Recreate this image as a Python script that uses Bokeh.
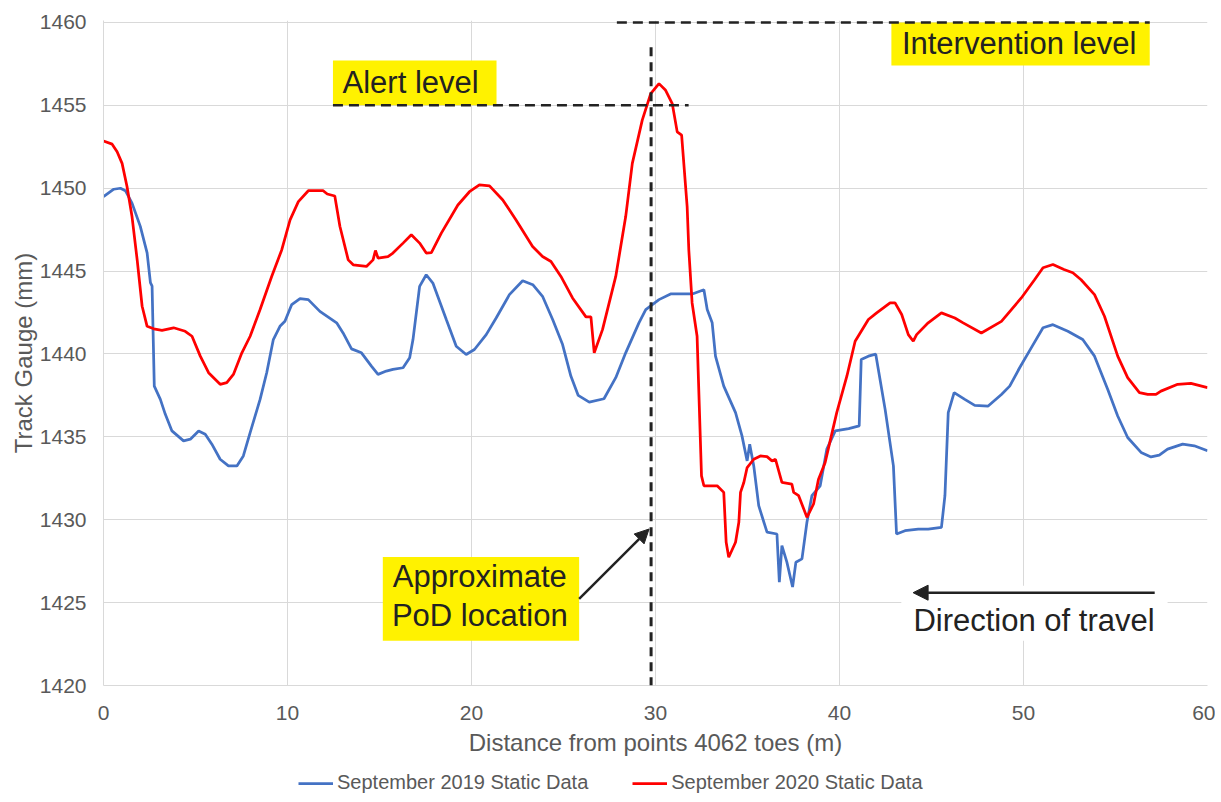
from bokeh.plotting import figure
from bokeh.layouts import column
from bokeh.models import (Range1d, FixedTicker, Legend, LegendItem, BoxAnnotation,
                          Label, Arrow, NormalHead)
from bokeh.embed import file_html
from bokeh.resources import INLINE

# ---------------- data ----------------
x_2019 = [0.0, 0.56, 0.92, 1.19, 1.55, 2.0, 2.37, 2.55, 2.64, 2.76, 3.09, 3.36, 3.72, 4.35, 4.72,
          5.17, 5.53, 5.89, 6.34, 6.79, 7.25, 7.6, 7.97, 8.51, 8.87, 9.23, 9.59, 9.86, 10.23, 10.68,
          11.13, 11.76, 12.67, 13.02, 13.48, 14.02, 14.56, 14.92, 15.37, 15.73, 16.28, 16.64, 16.82,
          17.18, 17.54, 17.9, 18.63, 19.17, 19.71, 20.16, 20.8, 21.34, 22.06, 22.78, 23.33, 23.86,
          24.41, 24.95, 25.4, 25.8, 26.4, 27.2, 27.84, 28.38, 29.1, 29.47, 30.19, 30.82, 32.0,
          32.63, 32.81, 33.08, 33.26, 33.71, 34.35, 34.7, 34.98, 35.12, 35.34, 35.61, 36.06, 36.6,
          36.73, 36.87, 37.14, 37.45, 37.63, 37.96, 38.23, 38.5, 38.95, 39.31, 39.77, 40.5, 41.07,
          41.18, 41.57, 41.97, 42.48, 42.93, 43.1, 43.56, 44.28, 44.82, 45.54, 45.73, 45.91, 46.23,
          46.81, 47.35, 48.08, 48.8, 49.25, 49.79, 50.42, 51.06, 51.6, 52.41, 53.22, 53.86, 54.58,
          55.12, 55.66, 56.39, 56.93, 57.38, 57.83, 58.65, 59.28, 60.0]
y_2019 = [1449.5, 1449.94, 1450.0, 1449.85, 1449.1, 1447.7, 1446.1, 1444.3, 1444.1, 1438.06,
          1437.26, 1436.36, 1435.36, 1434.76, 1434.86, 1435.36, 1435.16, 1434.56, 1433.65, 1433.25,
          1433.25, 1433.85, 1435.26, 1437.26, 1438.87, 1440.87, 1441.67, 1441.97, 1442.98, 1443.34,
          1443.28, 1442.57, 1441.88, 1441.27, 1440.31, 1440.07, 1439.27, 1438.77, 1438.97, 1439.07,
          1439.17, 1439.77, 1440.87, 1444.08, 1444.78, 1444.28, 1442.08, 1440.47, 1439.97, 1440.27,
          1441.17, 1442.17, 1443.58, 1444.42, 1444.18, 1443.48, 1442.08, 1440.57, 1438.67, 1437.5,
          1437.1, 1437.3, 1438.57, 1440.07, 1441.88, 1442.68, 1443.28, 1443.62, 1443.62, 1443.88,
          1442.68, 1441.88, 1439.87, 1438.06, 1436.46, 1435.06, 1433.55, 1434.56, 1433.25, 1430.85,
          1429.25, 1429.14, 1426.24, 1428.44, 1427.44, 1425.94, 1427.44, 1427.64, 1429.85, 1431.45,
          1432.05, 1434.26, 1435.36, 1435.5, 1435.66, 1439.67, 1439.87, 1439.99, 1436.66, 1433.25,
          1429.14, 1429.34, 1429.44, 1429.44, 1429.54, 1431.45, 1436.46, 1437.67, 1437.26, 1436.9,
          1436.86, 1437.56, 1438.06, 1439.17, 1440.37, 1441.58, 1441.77, 1441.37, 1440.87, 1439.87,
          1437.86, 1436.26, 1434.96, 1434.06, 1433.79, 1433.9, 1434.26, 1434.56, 1434.46, 1434.16]

x_2020 = [0.0, 0.47, 0.74, 1.01, 1.28, 1.55, 1.83, 2.1, 2.37, 2.73, 3.18, 3.81, 4.44, 4.81, 5.26,
          5.71, 6.34, 6.7, 7.06, 7.52, 7.97, 8.51, 9.14, 9.69, 10.14, 10.59, 11.13, 11.94, 12.16,
          12.57, 12.85, 13.3, 13.57, 14.29, 14.65, 14.78, 14.92, 15.46, 15.73, 16.28, 16.73, 17.18,
          17.54, 17.82, 18.36, 19.26, 19.89, 20.43, 20.98, 21.7, 22.42, 23.32, 23.86, 24.32, 24.86,
          25.49, 26.22, 26.49, 26.67, 27.12, 27.84, 28.38, 28.74, 29.28, 29.74, 30.19, 30.55, 30.91,
          31.18, 31.42, 31.72, 31.81, 31.99, 32.26, 32.5, 32.63, 33.35, 33.71, 33.84, 33.98, 34.35,
          34.53, 34.62, 34.8, 34.98, 35.34, 35.7, 36.06, 36.33, 36.52, 36.87, 37.41, 37.51, 37.78,
          38.23, 38.59, 38.86, 39.22, 39.85, 40.4, 40.85, 41.57, 42.02, 42.75, 43.02, 43.38, 43.74,
          44.01, 44.19, 44.82, 45.54, 46.27, 46.72, 47.71, 48.8, 49.88, 50.6, 51.06, 51.6, 52.2,
          52.68, 53.13, 53.86, 54.4, 55.12, 55.66, 56.3, 56.75, 57.2, 57.47, 58.38, 59.1, 60.0]
y_2020 = [1452.85, 1452.66, 1452.2, 1451.5, 1450.09, 1448.29, 1445.68, 1442.88, 1441.67, 1441.52,
          1441.43, 1441.58, 1441.37, 1441.07, 1439.87, 1438.87, 1438.17, 1438.27, 1438.77, 1440.07,
          1441.07, 1442.68, 1444.68, 1446.29, 1448.09, 1449.19, 1449.85, 1449.85, 1449.65, 1449.53,
          1447.69, 1445.68, 1445.38, 1445.28, 1445.68, 1446.24, 1445.79, 1445.88, 1446.09, 1446.69,
          1447.19, 1446.69, 1446.09, 1446.12, 1447.29, 1448.99, 1449.79, 1450.2, 1450.14, 1449.29,
          1448.09, 1446.48, 1445.88, 1445.58, 1444.68, 1443.38, 1442.24, 1442.24, 1440.07, 1441.47,
          1444.68, 1448.29, 1451.5, 1454.11, 1455.71, 1456.31, 1455.91, 1455.11, 1453.4, 1453.2,
          1448.89, 1446.29, 1443.08, 1441.07, 1432.65, 1432.05, 1432.05, 1431.65, 1428.64, 1427.74,
          1428.64, 1429.85, 1431.65, 1432.25, 1433.15, 1433.65, 1433.85, 1433.81, 1433.55, 1433.65,
          1432.25, 1432.15, 1431.65, 1431.45, 1430.15, 1430.95, 1432.45, 1433.46, 1436.46, 1438.66,
          1440.77, 1442.08, 1442.48, 1443.08, 1443.08, 1442.38, 1441.17, 1440.77, 1441.17, 1441.88,
          1442.48, 1442.17, 1441.88, 1441.27, 1441.97, 1443.38, 1444.48, 1445.2, 1445.4, 1445.1,
          1444.9, 1444.48, 1443.58, 1442.28, 1439.87, 1438.57, 1437.67, 1437.56, 1437.56, 1437.76,
          1438.17, 1438.23, 1437.97]

x_ticks = [0, 10, 20, 30, 40, 50, 60]
y_ticks = [1420, 1425, 1430, 1435, 1440, 1445, 1450, 1455, 1460]
series_names = ["September 2019 Static Data", "September 2020 Static Data"]
series_colors = ["#4472C4", "#FF0000"]
alert_level = 1455
intervention_level = 1460
pod_x = 29.76

FONT = "Liberation Sans"
GREY = "#595959"
DARK = "#222222"
YELLOW = "#FFF200"

p = figure(frame_width=1104, frame_height=665,
           x_range=Range1d(0, 60), y_range=Range1d(1420, 1460.12),
           output_backend="svg", toolbar_location=None,
           min_border_left=103, min_border_right=8, min_border_top=20, min_border_bottom=74)
p.outline_line_color = None
p.background_fill_color = "white"

for ax in (p.xaxis[0], p.yaxis[0]):
    ax.major_tick_line_color = None
    ax.minor_tick_line_color = None
    ax.axis_line_color = "#d9d9d9"
    ax.major_label_text_font = FONT
    ax.major_label_text_font_size = "21px"
    ax.major_label_text_color = GREY
    ax.axis_label_text_font = FONT
    ax.axis_label_text_font_size = "24px"
    ax.axis_label_text_font_style = "normal"
    ax.axis_label_text_color = GREY

p.xaxis.ticker = FixedTicker(ticks=x_ticks)
p.yaxis.ticker = FixedTicker(ticks=y_ticks)
p.xaxis.axis_label = "Distance from points 4062 toes (m)"
p.yaxis.axis_label = "Track Gauge (mm)"
p.xaxis.major_label_standoff = 14
p.xaxis.axis_label_standoff = 6
p.yaxis.major_label_standoff = 11
p.yaxis.axis_label_standoff = 0
p.xgrid.grid_line_color = "#d9d9d9"
p.ygrid.grid_line_color = "#d9d9d9"

p.line(x_2019, y_2019, line_color=series_colors[0], line_width=2.75)
p.line(x_2020, y_2020, line_color=series_colors[1], line_width=2.75)

# yellow / white boxes
p.add_layout(BoxAnnotation(left=12.47, right=21.36, bottom=1455.0, top=1457.7,
                           fill_color=YELLOW, fill_alpha=1, line_color=None))
p.add_layout(BoxAnnotation(left=42.82, right=56.86, bottom=1457.4, top=1460.0,
                           fill_color=YELLOW, fill_alpha=1, line_color=None))
p.add_layout(BoxAnnotation(left=15.18, right=25.85, bottom=1422.7, top=1427.76,
                           fill_color=YELLOW, fill_alpha=1, line_color=None))
p.add_layout(BoxAnnotation(left=43.36, right=57.83, bottom=1422.7, top=1426.02,
                           fill_color="white", fill_alpha=1, line_color=None))

# dashed level lines
dash_kw = dict(line_color=DARK, line_width=2.5, line_dash="10 6", end=None)
p.add_layout(Arrow(x_start=27.9, x_end=56.86, y_start=intervention_level, y_end=intervention_level, **dash_kw))
p.add_layout(Arrow(x_start=12.47, x_end=31.8, y_start=alert_level, y_end=alert_level, **dash_kw))
p.add_layout(Arrow(x_start=pod_x, x_end=pod_x, y_start=1458.5, y_end=1420, line_color=DARK,
                   line_width=3, line_dash="9 6", end=None))

# arrows
p.add_layout(Arrow(x_start=25.85, y_start=1425.23, x_end=29.65, y_end=1429.44,
                   line_color=DARK, line_width=2.5,
                   end=NormalHead(size=14, fill_color=DARK, line_color=DARK)))
p.add_layout(Arrow(x_start=57.13, y_start=1425.6, x_end=44.0, y_end=1425.6,
                   line_color=DARK, line_width=2.5,
                   end=NormalHead(size=15, fill_color=DARK, line_color=DARK)))

lab_kw = dict(text_font=FONT, text_font_size="31px", text_color=DARK,
              text_align="center", text_baseline="middle")
p.add_layout(Label(x=16.69, y=1456.39, text="Alert level", **lab_kw))
p.add_layout(Label(x=49.76, y=1458.74, text="Intervention level", **lab_kw))
p.add_layout(Label(x=20.45, y=1426.56, text="Approximate", **lab_kw))
p.add_layout(Label(x=20.45, y=1424.2, text="PoD location", **lab_kw))
p.add_layout(Label(x=50.57, y=1423.91, text="Direction of travel", **lab_kw))

# legend strip below the chart (its frame is aligned with the chart frame)
pl = figure(width=1215, height=35, x_range=Range1d(0, 1), y_range=Range1d(0, 1),
            output_backend="svg", toolbar_location=None, min_border=0)
pl.axis.visible = False
pl.grid.visible = False
pl.outline_line_color = None
lr = [pl.line([-5, -4], [-5, -4], line_color=c, line_width=2.75) for c in series_colors]
legend = Legend(items=[LegendItem(label=n, renderers=[r]) for n, r in zip(series_names, lr)],
                orientation="horizontal", location=(195, 0),
                label_text_font=FONT, label_text_font_size="20px", label_text_color=GREY,
                glyph_width=35, label_standoff=4, spacing=44, padding=0, margin=0,
                border_line_color=None, background_fill_alpha=0)
pl.add_layout(legend, "center")

page = column(p, pl, spacing=0)
open("out.html", "w").write(file_html(page, INLINE))
